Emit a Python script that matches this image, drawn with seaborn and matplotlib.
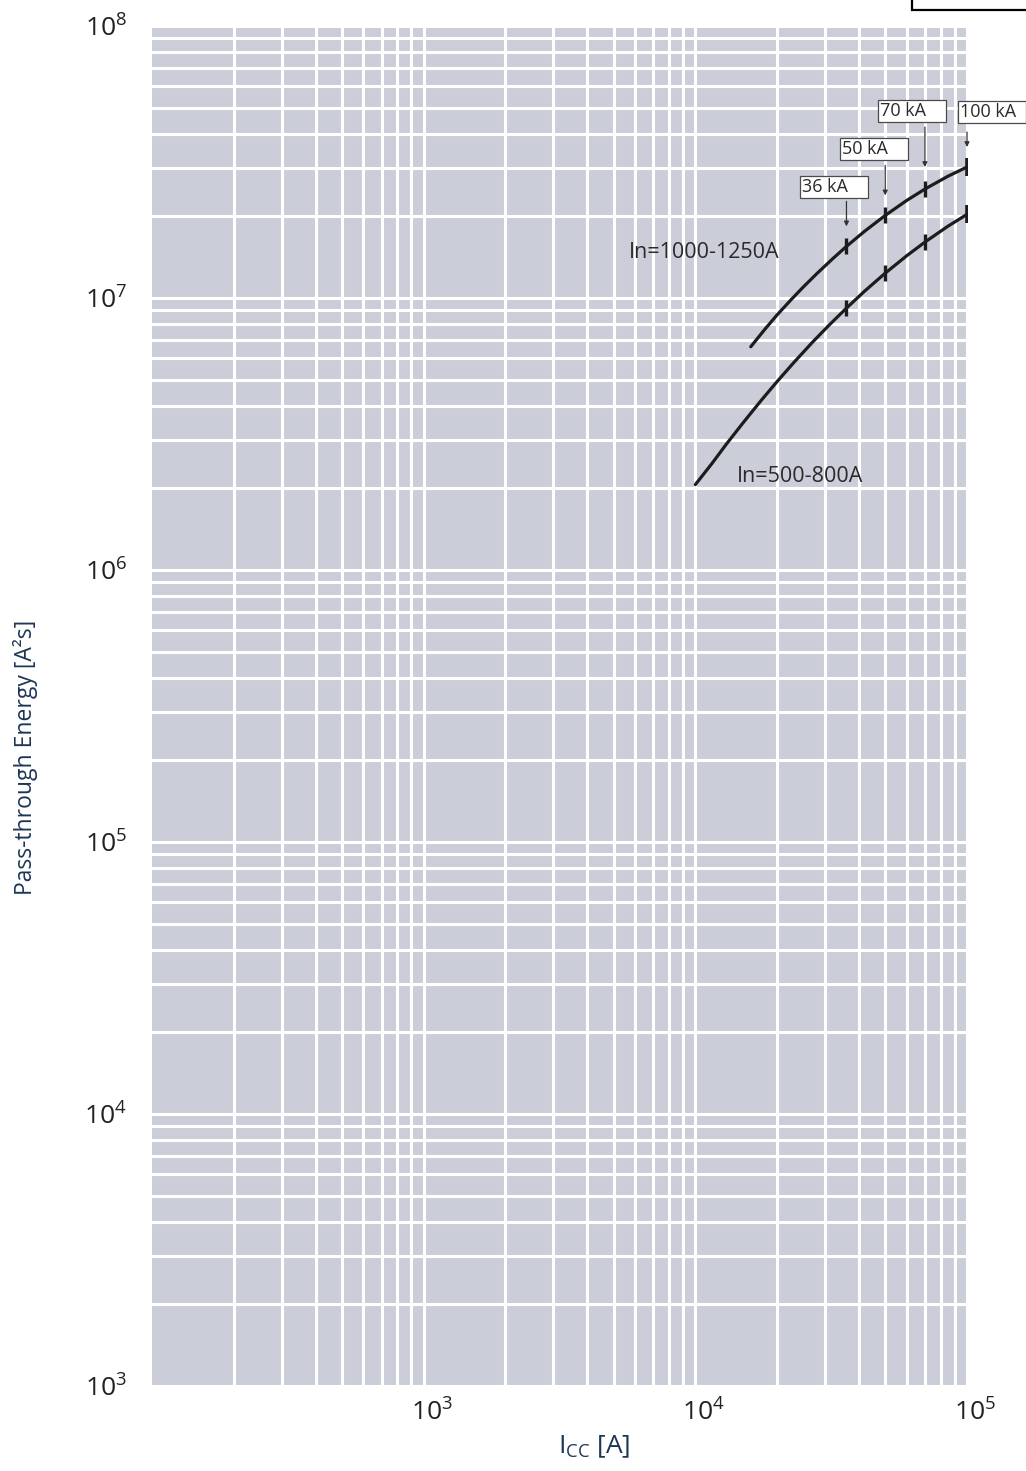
import matplotlib
matplotlib.use("Agg")
import matplotlib.pyplot as plt
import numpy as np
import pandas as pd
import seaborn as sns
from matplotlib.patches import Rectangle, FancyArrowPatch
from matplotlib.ticker import FixedLocator, LogLocator, NullFormatter
from matplotlib.transforms import ScaledTranslation

# Let-through energy (I²t) versus prospective short-circuit current
current_hi = [16000, 18000, 20000, 22500, 25000, 28000, 32000, 36000,
              42000, 50000, 60000, 70000, 85000, 100000]
energy_hi = [6.62e6, 7.66e6, 8.67e6, 9.85e6, 1.099e7, 1.229e7, 1.393e7, 1.548e7,
             1.76e7, 2.012e7, 2.284e7, 2.515e7, 2.802e7, 3.03e7]
current_lo = [10000, 11500, 13000, 15000, 17500, 20000, 23000, 27000, 31000, 36000,
              42000, 50000, 60000, 70000, 85000, 100000]
energy_lo = [2.06e6, 2.46e6, 2.9e6, 3.48e6, 4.21e6, 4.93e6, 5.78e6, 6.88e6, 7.93e6, 9.18e6,
             1.06e7, 1.234e7, 1.43e7, 1.605e7, 1.835e7, 2.03e7]
series_names = ["In=1000-1250A", "In=500-800A"]

# Breaking capacities marked on both curves
breaking_currents = [36000, 50000, 70000, 100000]
breaking_labels = ["36 kA", "50 kA", "70 kA", "100 kA"]
marks_hi = [1.548e7, 2.012e7, 2.515e7, 3.03e7]
marks_lo = [9.18e6, 1.234e7, 1.605e7, 2.03e7]

x_ticks = [1e3, 1e4, 1e5]
x_tick_labels = [r"$\mathregular{10^{3}}$", r"$\mathregular{10^{4}}$", r"$\mathregular{10^{5}}$"]
y_ticks = [1e3, 1e4, 1e5, 1e6, 1e7, 1e8]
y_tick_labels = [r"$\mathregular{10^{%d}}$" % k for k in range(3, 9)]

BG = "#CBCED8"
INK = "#1c1c1c"
NAVY = "#1d3656"

sns.set_theme(style="darkgrid", rc={
    "axes.facecolor": BG,
    "grid.color": "white",
    "grid.linewidth": 2.2,
})
plt.rcParams["font.family"] = ["Open Sans", "DejaVu Sans"]
plt.rcParams["mathtext.fontset"] = "custom"
plt.rcParams["mathtext.rm"] = "Open Sans"

W, H = 1026, 1471
fig = plt.figure(figsize=(W / 100, H / 100), dpi=100)
fig.patch.set_facecolor("white")
ax = fig.add_axes([152 / W, 1 - 1386 / H, 815 / W, 1360 / H])
ax.set_xscale("log")
ax.set_yscale("log")
ax.set_xlim(1e2, 1e5)
ax.set_ylim(1e3, 1e8)

df = pd.concat([
    pd.DataFrame({"current": current_hi, "energy": energy_hi, "series": series_names[0]}),
    pd.DataFrame({"current": current_lo, "energy": energy_lo, "series": series_names[1]}),
])
sns.lineplot(data=df, x="current", y="energy", hue="series", palette=[INK, INK],
             estimator=None, sort=True, linewidth=2.3, legend=False, ax=ax)

# short vertical bars at each breaking capacity
for vals in (marks_hi, marks_lo):
    ax.plot(breaking_currents[:-1], vals[:-1], linestyle="none", marker="|",
            markersize=11, markeredgewidth=2.4, color=INK)
    ax.plot(breaking_currents[-1:], vals[-1:], linestyle="none", marker="|",
            markersize=13, markeredgewidth=2.6, color=INK)

# grid and ticks
ax.xaxis.set_major_locator(FixedLocator(x_ticks))
ax.xaxis.set_minor_locator(LogLocator(base=10, subs=np.arange(2, 10), numticks=30))
ax.yaxis.set_major_locator(FixedLocator(y_ticks))
ax.yaxis.set_minor_locator(LogLocator(base=10, subs=np.arange(2, 10), numticks=30))
ax.xaxis.set_minor_formatter(NullFormatter())
ax.yaxis.set_minor_formatter(NullFormatter())
ax.set_xticklabels(x_tick_labels)
ax.set_yticklabels(y_tick_labels)
ax.grid(which="both", color="white", linewidth=2.2)
ax.tick_params(which="both", length=0)
ax.tick_params(axis="x", pad=10, labelsize=19, labelcolor="#222222")
ax.tick_params(axis="y", pad=18, labelsize=19, labelcolor="#222222")
for lab in ax.get_xticklabels():
    lab.set_transform(lab.get_transform() + ScaledTranslation(8 / 100, 0, fig.dpi_scale_trans))
for s in ax.spines.values():
    s.set_visible(False)

ax.set_xlabel(r"$\mathregular{I_{CC}}$ [A]", fontsize=19, color=NAVY, va="top")
ax.xaxis.set_label_coords((594 - 152) / 815, -(1434 - 1386) / 1360)
ax.set_ylabel("Pass-through Energy [A²s]", fontsize=16.5, color=NAVY, va="center")
ax.yaxis.set_label_coords((25 - 152) / 815, 1 - (757 - 26) / 1360)

# curve names
ax.text(5715, 1.476e7, series_names[0], fontsize=15.5, color="#2a2a2a", ha="left", va="center")
ax.text(14260, 2.198e6, series_names[1], fontsize=15.5, color="#2a2a2a", ha="left", va="center")

# labelled boxes with arrows pointing at the upper curve's bars
box_offsets = [(-46, 48), (-45, 55), (-47, 67), (-9, 44)]   # left, bottom (px above bar)
arrow_spans = [(45, 20), (50, 20), (62, 22), (35, 20)]      # start, tip (px above bar)
box_w, box_h = 68, 22
fig.canvas.draw()
for xk, yk, lab, (dx, dy), (a0, a1) in zip(breaking_currents, marks_hi, breaking_labels,
                                            box_offsets, arrow_spans):
    px, py = ax.transData.transform((xk, yk))
    bx, by = px + dx, py + dy
    fig.add_artist(Rectangle((bx / W, by / H), box_w / W, box_h / H, transform=fig.transFigure,
                             facecolor="white", edgecolor="#4a4a4a", linewidth=0.9, zorder=5))
    fig.text((bx + 2) / W, (by + box_h / 2) / H, lab, fontsize=13, color="#2a2a2a",
             ha="left", va="center", zorder=6)
    fig.add_artist(FancyArrowPatch((px / W, (py + a0) / H), (px / W, (py + a1) / H),
                                   transform=fig.transFigure, arrowstyle="-|>",
                                   mutation_scale=7, linewidth=0.9, color="#333333",
                                   shrinkA=0, shrinkB=0, zorder=6))

# frame peeking in at the top-right corner
fig.add_artist(Rectangle((912 / W, 1 - 10 / H), 200 / W, 40 / H, transform=fig.transFigure,
                         facecolor="white", edgecolor="black", linewidth=1.6, clip_on=False))

fig.savefig("out.png", dpi=100, facecolor="white")
